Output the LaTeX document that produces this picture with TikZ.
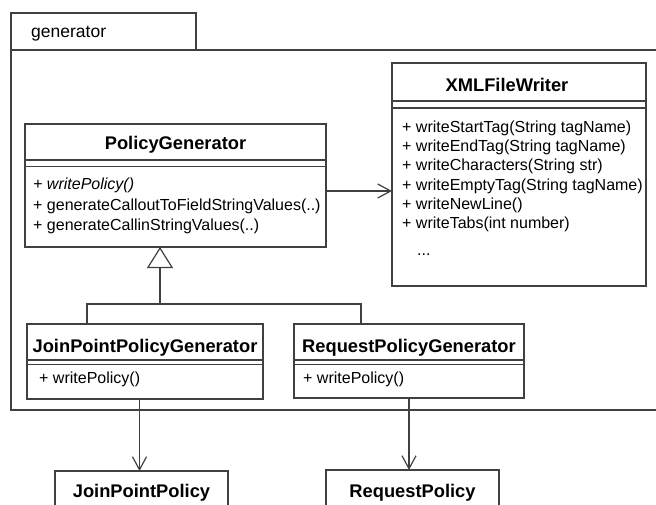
\documentclass[tikz,border=0pt]{standalone}
\usepackage{fontspec}
\setmainfont{Liberation Sans}
\usetikzlibrary{arrows.meta}
\definecolor{umlline}{rgb}{0.25,0.25,0.25}
\newcommand\opsize{\fontsize{16}{19}\selectfont}
\newcommand\titlesize{\fontsize{18.3}{22}\selectfont\bfseries}
\newcommand\pkgsize{\fontsize{17.5}{21}\selectfont}
% two horizontal lines splitting a class box below its name
\newcommand\umlsplit[3]{%
  \draw[divline] ([yshift=-#2]#1.north west) -- ([yshift=-#2]#1.north east);
  \draw[divline] ([yshift=-#3]#1.north west) -- ([yshift=-#3]#1.north east);}
\tikzset{
  umlbox/.style={draw=umlline, line width=1.2pt, rectangle, inner sep=0pt,
    outer sep=0pt, anchor=north west},
  divline/.style={draw=umlline, line width=1.2pt},
  pkgline/.style={draw=umlline, line width=1.2pt},
  classname/.style={font=\titlesize, anchor=base, inner sep=0pt},
  oprow/.style={font=\opsize, anchor=base west, inner sep=0pt},
  assoc/.style={draw=umlline, line width=1.2pt,
    -{Straight Barb[length=13pt, width=14pt, line width=1.2pt]}},
  inherit/.style={draw=umlline, line width=1.2pt,
    -{Triangle[open, length=21pt, width=26pt, line width=1.2pt, fill=white]}},
  wire/.style={draw=umlline, line width=1.2pt}
}
\begin{document}
\begin{tikzpicture}[x=1pt, y=-1pt]
  \useasboundingbox (0,0) rectangle (656,504);
  \clip (0,0) rectangle (656,504);

  % package frame
  \draw[pkgline] (11,13) rectangle (196,50);
  \draw[pkgline] (11,50) rectangle (700,410);
  \node[font=\pkgsize, anchor=base west, inner sep=0pt] (pkgname) at (31,37) {generator};

  % PolicyGenerator
  \node[umlbox, minimum width=301pt, minimum height=123pt] (pg) at (25,124) {};
  \umlsplit{pg}{36pt}{42.7pt}
  \node[classname] (pgname) at (175.5,149) {PolicyGenerator};
  \node[oprow] (pgop1) at (33,189) {\itshape + writePolicy()};
  \node[oprow] (pgop2) at (33,210) {+ generateCalloutToFieldStringValues(..)};
  \node[oprow] (pgop3) at (33,230.5) {+ generateCallinStringValues(..)};

  % XMLFileWriter
  \node[umlbox, minimum width=254pt, minimum height=223pt] (xml) at (392,63) {};
  \umlsplit{xml}{38pt}{45pt}
  \node[classname] (xmlname) at (507,91) {XMLFileWriter};
  \node[oprow] (xmlop1) at (402,132.5) {+ writeStartTag(String tagName)};
  \node[oprow] (xmlop2) at (402,151.5) {+ writeEndTag(String tagName)};
  \node[oprow] (xmlop3) at (402,170.7) {+ writeCharacters(String str)};
  \node[oprow] (xmlop4) at (402,190) {+ writeEmptyTag(String tagName)};
  \node[oprow] (xmlop5) at (402,209) {+ writeNewLine()};
  \node[oprow] (xmlop6) at (402,228) {+ writeTabs(int number)};
  \node[oprow] (xmlmore) at (417,255) {...};

  % JoinPointPolicyGenerator
  \node[umlbox, minimum width=236pt, minimum height=75pt] (jpg) at (27,324) {};
  \umlsplit{jpg}{36pt}{40.5pt}
  \node[classname] (jpgname) at (145,352) {JoinPointPolicyGenerator};
  \node[oprow] (jpgop) at (39,383) {+ writePolicy()};

  % RequestPolicyGenerator
  \node[umlbox, minimum width=230pt, minimum height=74pt] (rpg) at (294,324) {};
  \umlsplit{rpg}{36pt}{40.5pt}
  \node[classname] (rpgname) at (409,352) {RequestPolicyGenerator};
  \node[oprow] (rpgop) at (303,383) {+ writePolicy()};

  % policies
  \node[umlbox, minimum width=173pt, minimum height=60pt] (jpp) at (55,471) {};
  \node[classname] (jppname) at (141.5,497) {JoinPointPolicy};
  \node[umlbox, minimum width=173pt, minimum height=60pt] (rp) at (326,470) {};
  \node[classname] (rpname) at (412.5,497) {RequestPolicy};

  % generalization tree
  \coordinate (bus) at (160,304);
  \coordinate (jpgdrop) at (87,304);
  \coordinate (rpgdrop) at (361,304);
  \draw[wire] (jpgdrop |- jpg.north) -- (jpgdrop) -- (rpgdrop) -- (rpgdrop |- rpg.north);
  \draw[inherit] (bus) -- (bus |- pg.south);

  % associations
  \coordinate (uses) at (0,191);
  \draw[assoc] (pg.east |- uses) -- (xml.west |- uses);
  \coordinate (jpgline) at (139.5,0);
  \draw[assoc] (jpgline |- jpg.south) -- (jpgline |- jpp.north);
  \coordinate (rpgline) at (409,0);
  \draw[assoc] (rpgline |- rpg.south) -- (rpgline |- rp.north);
\end{tikzpicture}
\end{document}
